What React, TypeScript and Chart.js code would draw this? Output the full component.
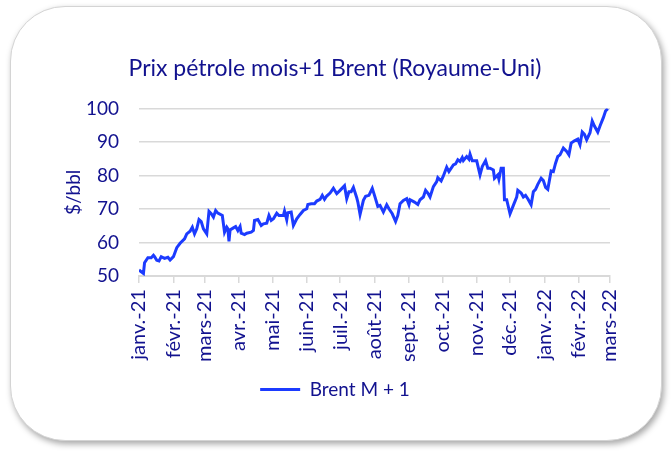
import React, { useEffect, useRef } from "react";
import { Chart, registerables } from "chart.js";

Chart.register(...registerables);

const titleText = "Prix pétrole mois+1 Brent (Royaume-Uni)";
const yAxisTitle = "$/bbl";
const seriesName = "Brent M + 1";

// Month tick positions: days since 1 Jan 2021
const monthTickDays = [0, 31, 59, 90, 120, 151, 181, 212, 243, 273, 304, 334, 365, 396, 424];
const monthTickLabels = [
  "janv.-21", "févr.-21", "mars-21", "avr.-21", "mai-21", "juin-21", "juil.-21",
  "août-21", "sept.-21", "oct.-21", "nov.-21", "déc.-21", "janv.-22", "févr.-22", "mars-22",
];

// Observation dates (days since 1 Jan 2021) and Brent M+1 prices ($/bbl)
const priceDays = [
  0, 4, 5, 8, 11, 13, 14, 16, 18, 20, 23, 26, 28, 31, 34, 37, 41, 43, 46, 48,
  50, 52, 54, 56, 58, 61, 63, 65, 67, 69, 71, 75, 77, 79, 80, 81, 82, 85, 87, 89,
  91, 92, 95, 97, 101, 103, 104, 107, 110, 112, 115, 117, 119, 121, 124, 126, 130, 131, 133, 134,
  137, 139, 142, 145, 148, 151, 152, 155, 158, 160, 163, 165, 167, 169, 172, 175, 178, 181, 185, 187,
  189, 191, 193, 196, 197, 199, 202, 204, 207, 210, 212, 215, 217, 220, 223, 225, 228, 231, 233, 235,
  238, 241, 243, 244, 248, 251, 253, 256, 258, 260, 262, 265, 268, 269, 272, 274, 277, 279, 283, 285,
  287, 289, 291, 292, 295, 297, 298, 300, 304, 307, 309, 312, 314, 316, 319, 320, 323, 324, 326, 328,
  329, 331, 334, 337, 340, 341, 344, 346, 348, 350, 353, 355, 357, 359, 362, 364, 366, 368, 371, 373,
  375, 377, 379, 382, 385, 387, 389, 392, 395, 397, 399, 401, 403, 406, 408, 410, 413, 415, 418, 420,
  422,
];
const brentPrices = [
  51.8, 50.8, 54.0, 55.5, 55.5, 56.2, 55.8, 54.7, 54.5, 55.8, 55.3, 55.6, 54.8, 55.8, 58.5, 59.8, 61.1, 62.6, 63.4, 64.6,
  62.6, 64.1, 66.9, 66.3, 64.1, 62.6, 69.3, 68.6, 67.6, 69.6, 68.8, 68.1, 63.1, 64.6, 64.1, 60.4, 63.8, 64.4, 64.8, 63.6,
  64.8, 62.8, 62.4, 62.8, 63.1, 63.6, 66.6, 66.9, 65.1, 65.6, 65.8, 68.1, 66.6, 67.1, 68.8, 68.1, 68.1, 69.4, 66.8, 68.9,
  69.1, 65.1, 67.1, 68.4, 69.6, 70.1, 71.4, 71.6, 71.6, 72.4, 72.9, 74.1, 72.9, 73.9, 74.8, 76.2, 74.6, 75.6, 77.0, 73.1,
  75.2, 75.2, 76.5, 73.4, 72.1, 68.4, 72.6, 73.8, 74.1, 76.2, 74.1, 70.8, 71.1, 69.1, 71.3, 70.1, 68.6, 66.3, 68.1, 71.6,
  72.6, 73.1, 71.3, 72.8, 72.1, 71.4, 72.8, 73.6, 75.6, 74.8, 73.6, 76.7, 78.2, 79.4, 78.4, 79.9, 82.5, 81.2, 83.2, 83.5,
  84.7, 84.2, 85.4, 84.5, 85.7, 84.9, 86.4, 84.4, 84.4, 80.2, 82.7, 84.5, 82.2, 82.2, 81.7, 79.2, 80.2, 78.9, 82.2, 82.2,
  72.8, 72.8, 68.6, 71.1, 73.6, 75.6, 74.8, 73.6, 74.1, 73.1, 71.3, 75.2, 75.9, 77.4, 79.2, 78.5, 76.5, 75.9, 81.4, 81.2,
  83.7, 85.7, 86.2, 88.2, 87.2, 86.2, 89.7, 90.4, 90.9, 89.2, 93.0, 92.3, 90.7, 92.8, 96.3, 94.8, 93.0, 94.8, 97.3, 99.3,
  100.0,
];

const yMin = 50;
const yMax = 100;
const yStep = 10;

const NAVY = "#12128f";
const LINE = "#1c3bff";
const GRID = "#d9d9d9";
const FONT = "Lato, 'Open Sans', sans-serif";

export default function App() {
  const canvasRef = useRef<HTMLCanvasElement | null>(null);

  useEffect(() => {
    if (!canvasRef.current) return;
    const points = priceDays.map((d, i) => ({ x: d, y: brentPrices[i] }));
    const chart = new Chart(canvasRef.current, {
      type: "line",
      data: {
        datasets: [
          {
            label: seriesName,
            data: points,
            borderColor: LINE,
            backgroundColor: LINE,
            borderWidth: 3,
            pointRadius: 0,
            tension: 0,
          },
        ],
      },
      options: {
        animation: false,
        responsive: true,
        maintainAspectRatio: false,
        layout: { padding: { left: 60, right: 62, top: 55, bottom: 46 } },
        plugins: {
          title: {
            display: true,
            text: titleText,
            color: NAVY,
            font: { family: FONT, size: 23, weight: "normal" },
            padding: { top: 0, bottom: 26 },
          },
          legend: {
            display: true,
            position: "bottom",
            labels: {
              color: NAVY,
              font: { family: FONT, size: 19 },
              boxWidth: 40,
              boxHeight: 3,
              padding: 12,
              generateLabels: (c: any) =>
                c.data.datasets.map((ds: any, i: number) => ({
                  text: ds.label,
                  fillStyle: ds.borderColor,
                  strokeStyle: ds.borderColor,
                  lineWidth: 0,
                  datasetIndex: i,
                  fontColor: NAVY,
                })),
            },
          },
          tooltip: { enabled: false },
        },
        scales: {
          x: {
            type: "linear",
            min: monthTickDays[0],
            max: monthTickDays[monthTickDays.length - 1],
            afterBuildTicks: (axis: any) => {
              axis.ticks = monthTickDays.map((v) => ({ value: v }));
            },
            ticks: {
              autoSkip: false,
              minRotation: 90,
              maxRotation: 90,
              color: NAVY,
              font: { family: FONT, size: 20 },
              padding: 6,
              callback: (v: any) => {
                const i = monthTickDays.indexOf(Number(v));
                return i >= 0 ? monthTickLabels[i] : "";
              },
            },
            grid: {
              drawOnChartArea: false,
              drawTicks: true,
              tickLength: 7,
              color: GRID,
              lineWidth: 1.5,
            },
            border: { display: true, color: GRID, width: 2 },
          },
          y: {
            min: yMin,
            max: yMax,
            afterFit: (axis: any) => {
              axis.width = 79;
            },
            ticks: {
              stepSize: yStep,
              color: NAVY,
              font: { family: FONT, size: 19 },
              padding: 20,
            },
            grid: { color: GRID, lineWidth: 1.5, drawTicks: false },
            border: { display: false },
            title: {
              display: true,
              text: yAxisTitle,
              color: NAVY,
              font: { family: FONT, size: 19 },
              padding: { top: 2, bottom: 6 },
            },
          },
        },
      },
    });
    return () => chart.destroy();
  }, []);

  return (
    <div style={{ position: "fixed", left: 0, top: 0, width: 672, height: 455, background: "#fff" }}>
      <div
        style={{
          position: "absolute",
          left: 10,
          top: 6,
          width: 650,
          height: 433,
          borderRadius: 55,
          border: "1px solid #d4d4d4",
          boxShadow: "2px 3px 6px rgba(0,0,0,0.35)",
          background: "#fff",
        }}
      />
      <div style={{ position: "absolute", left: 0, top: 0, width: 672, height: 455 }}>
        <canvas ref={canvasRef} />
      </div>
    </div>
  );
}
